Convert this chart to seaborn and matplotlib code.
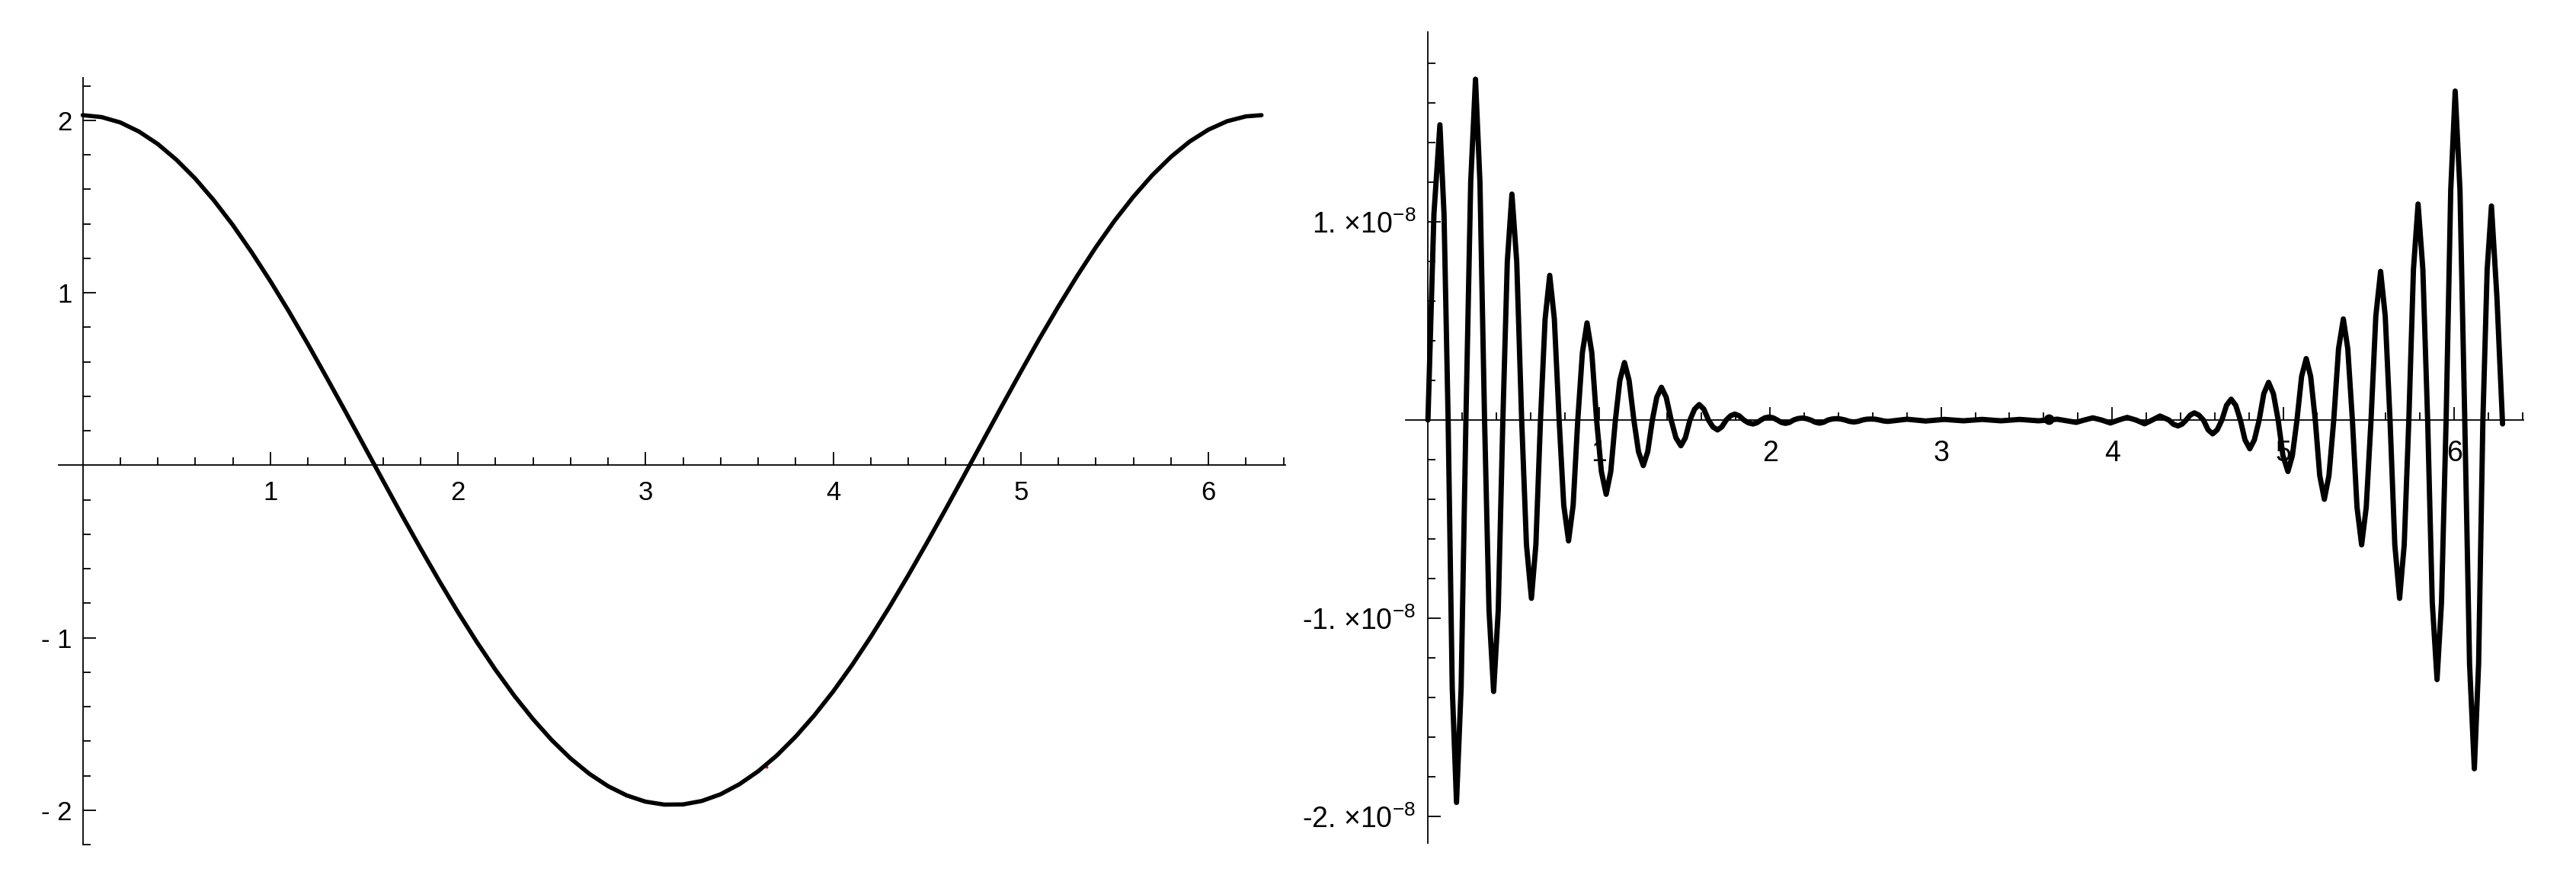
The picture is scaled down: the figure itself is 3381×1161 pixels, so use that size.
import matplotlib
matplotlib.use("Agg")
import numpy as np
import pandas as pd
import matplotlib.pyplot as plt
import seaborn as sns


# Left panel: the approximating curve
curve_x = [0.0, 0.1, 0.2, 0.3, 0.4, 0.5, 0.6, 0.7, 0.8, 0.9,
           1.0, 1.1, 1.2, 1.3, 1.4, 1.5, 1.6, 1.7, 1.8, 1.9,
           2.0, 2.1, 2.2, 2.3, 2.4, 2.5, 2.6, 2.7, 2.8, 2.9,
           3.0, 3.1, 3.2, 3.3, 3.4, 3.5, 3.6, 3.7, 3.8, 3.9,
           4.0, 4.1, 4.2, 4.3, 4.4, 4.5, 4.6, 4.7, 4.8, 4.9,
           5.0, 5.1, 5.2, 5.3, 5.4, 5.5, 5.6, 5.7, 5.8, 5.9,
           6.0, 6.1, 6.2, 6.283]
curve_y = [2.030, 2.019, 1.988, 1.935, 1.863, 1.771, 1.662, 1.535, 1.393, 1.236,
           1.068, 0.890, 0.703, 0.509, 0.312, 0.112, -0.088, -0.287, -0.481, -0.670,
           -0.852, -1.024, -1.186, -1.336, -1.472, -1.594, -1.700, -1.789, -1.861, -1.915,
           -1.951, -1.968, -1.967, -1.947, -1.908, -1.850, -1.775, -1.683, -1.574, -1.450,
           -1.312, -1.160, -0.996, -0.822, -0.639, -0.449, -0.254, -0.055, 0.145, 0.345,
           0.542, 0.735, 0.920, 1.097, 1.264, 1.418, 1.557, 1.681, 1.788, 1.877,
           1.946, 1.995, 2.023, 2.030]

# Right panel: error curve (units of 1e-8), one row per half wave:
# zero crossing, rising shoulder, extremum, falling shoulder
err_x = [0.000, 0.035, 0.070, 0.094,
         0.118, 0.142, 0.167, 0.194,
         0.222, 0.250, 0.278, 0.304,
         0.331, 0.357, 0.384, 0.411,
         0.438, 0.464, 0.491, 0.519,
         0.548, 0.576, 0.605, 0.631,
         0.658, 0.685, 0.712, 0.739,
         0.767, 0.794, 0.822, 0.849,
         0.876, 0.903, 0.930, 0.958,
         0.986, 1.014, 1.042, 1.069,
         1.096, 1.122, 1.149, 1.176,
         1.204, 1.231, 1.259, 1.285,
         1.312, 1.338, 1.365, 1.393,
         1.422, 1.450, 1.479, 1.505,
         1.532, 1.559, 1.586, 1.613,
         1.640, 1.666, 1.693, 1.718,
         1.744, 1.769, 1.794, 1.820,
         1.847, 1.873, 1.900, 1.923,
         1.947, 1.970, 1.994, 2.018,
         2.042, 2.066, 2.090, 2.114,
         2.138, 2.162, 2.187, 2.212,
         2.238, 2.264, 2.290, 2.314,
         2.339, 2.363, 2.388, 2.413,
         2.439, 2.464, 2.490, 2.515,
         2.540, 2.565, 2.590, 2.615,
         2.640, 2.665, 2.690,
         2.800, 2.910, 3.020, 3.130, 3.240, 3.350, 3.460, 3.570, 3.680,
         3.790, 3.838, 3.887, 3.938, 3.990, 4.039, 4.088, 4.139,
         4.190, 4.235, 4.280,
         4.332, 4.358, 4.385, 4.409,
         4.433, 4.457, 4.481, 4.507,
         4.534, 4.561, 4.588, 4.615,
         4.642, 4.669, 4.696, 4.723,
         4.750, 4.777, 4.805, 4.832,
         4.860, 4.887, 4.915, 4.943,
         4.971, 4.999, 5.028, 5.054,
         5.081, 5.108, 5.135, 5.161,
         5.188, 5.214, 5.241, 5.268,
         5.296, 5.324, 5.352, 5.378,
         5.405, 5.432, 5.459, 5.486,
         5.514, 5.542, 5.570, 5.597,
         5.625, 5.653, 5.681, 5.708,
         5.735, 5.762, 5.789, 5.817,
         5.845, 5.872, 5.900, 5.926,
         5.953, 5.980, 6.006, 6.034,
         6.062, 6.090, 6.118, 6.143,
         6.168, 6.193, 6.218, 6.250,
         6.283]
err_y = [0.00, 1.04, 1.49, 1.04,
         0.00, -1.35, -1.93, -1.35,
         0.00, 1.20, 1.72, 1.20,
         0.00, -0.96, -1.37, -0.96,
         0.00, 0.80, 1.14, 0.80,
         0.00, -0.63, -0.90, -0.63,
         0.00, 0.51, 0.73, 0.51,
         0.00, -0.43, -0.61, -0.43,
         0.00, 0.34, 0.49, 0.34,
         0.00, -0.26, -0.375, -0.26,
         0.00, 0.20, 0.29, 0.20,
         0.00, -0.16, -0.23, -0.16,
         0.00, 0.115, 0.165, 0.115,
         0.00, -0.09, -0.13, -0.09,
         0.00, 0.055, 0.078, 0.055,
         0.00, -0.035, -0.05, -0.035,
         0.00, 0.021, 0.03, 0.021,
         0.00, -0.014, -0.02, -0.014,
         0.00, 0.011, 0.015, 0.011,
         0.00, -0.012, -0.017, -0.012,
         0.00, 0.007, 0.010, 0.007,
         0.00, -0.011, -0.016, -0.011,
         0.00, 0.005, 0.007, 0.005,
         0.00, -0.007, -0.010, -0.007,
         0.00, 0.004, 0.005, 0.004,
         0.00, -0.005, -0.007,
         0.004, -0.005, 0.003, -0.004, 0.003, -0.004, 0.003, -0.004, 0.004,
         -0.012, 0.00, 0.011, 0.00, -0.015, 0.00, 0.013, 0.00,
         -0.019, 0.00, 0.020,
         0.00, -0.021, -0.030, -0.021,
         0.00, 0.025, 0.036, 0.025,
         0.00, -0.049, -0.070, -0.049,
         0.00, 0.074, 0.105, 0.074,
         0.00, -0.10, -0.145, -0.10,
         0.00, 0.133, 0.19, 0.133,
         0.00, -0.18, -0.26, -0.18,
         0.00, 0.22, 0.31, 0.22,
         0.00, -0.28, -0.40, -0.28,
         0.00, 0.36, 0.51, 0.36,
         0.00, -0.44, -0.63, -0.44,
         0.00, 0.525, 0.75, 0.525,
         0.00, -0.63, -0.90, -0.63,
         0.00, 0.76, 1.09, 0.76,
         0.00, -0.92, -1.31, -0.92,
         0.00, 1.16, 1.66, 1.16,
         0.00, -1.23, -1.76, -1.23,
         0.00, 0.76, 1.08, 0.62,
         -0.02]

# stray points visible in the picture
left_dot_x, left_dot_y = [3.643], [-1.75]
right_dot_x, right_dot_y = [3.63], [0.005]

left_xticks = [1, 2, 3, 4, 5, 6]
left_yticks = [-2, -1, 1, 2]
left_ylabels = ["- 2", "- 1", "1", "2"]
right_xticks = [1, 2, 3, 4, 5, 6]
right_yticks = [1e-8, -1e-8, -2e-8]
right_ylabels = ["1. \u00d710$^{-8}$", "-1. \u00d710$^{-8}$", "-2. \u00d710$^{-8}$"]

left_df = pd.DataFrame({"x": curve_x, "y": curve_y})
right_df = pd.DataFrame({"x": err_x, "y": np.array(err_y) * 1e-8})


sns.set_theme(style="white")
plt.rcParams["font.family"] = ["Liberation Sans", "DejaVu Sans"]
plt.rcParams["mathtext.fontset"] = "custom"
plt.rcParams["mathtext.rm"] = "Liberation Sans"
plt.rcParams["mathtext.it"] = "Liberation Sans:italic"
plt.rcParams["mathtext.bf"] = "Liberation Sans:bold"

W, H = 3381, 1161
fig = plt.figure(figsize=(W / 100, H / 100), dpi=100)
fig.patch.set_facecolor("white")
ax1 = fig.add_axes([77 / W, 1 - 1108 / H, 1610 / W, 1006 / H])
ax2 = fig.add_axes([1845 / W, 1 - 1106 / H, 1467 / W, 1064 / H])


def style_axes(ax, fs, xpad, ypad):
    for side in ["top", "right"]:
        ax.spines[side].set_visible(False)
    for side in ["left", "bottom"]:
        ax.spines[side].set_position(("data", 0))
        ax.spines[side].set_linewidth(1.3)
        ax.spines[side].set_color("black")
    ax.grid(False)
    ax.set_facecolor("none")
    ax.set_xlabel("")
    ax.set_ylabel("")
    ax.tick_params(which="both", direction="in", bottom=True, left=True,
                   color="black", width=1.3, labelcolor="black")
    ax.tick_params(which="major", length=12)
    ax.tick_params(which="minor", length=7)
    ax.tick_params(axis="x", which="major", pad=xpad, labelsize=fs)
    ax.tick_params(axis="y", which="major", pad=ypad, labelsize=fs)


# Left: curve
sns.lineplot(data=left_df, x="x", y="y", ax=ax1, color="black", linewidth=4.0,
             estimator=None, sort=False, zorder=3)
ax1.scatter(left_dot_x, left_dot_y, s=8, color="red", zorder=2.8, linewidths=0)
ax1.set_xlim(-0.128, 6.41)
ax1.set_ylim(-2.19, 2.247)
ax1.set_xticks(left_xticks, [str(t) for t in left_xticks])
ax1.set_yticks(left_yticks, left_ylabels)
minor_x = [v for v in np.round(np.arange(0.2, 6.41, 0.2), 2) if v % 1 != 0]
minor_y = [v for v in np.round(np.arange(-2.2, 2.21, 0.2), 2) if v % 1 != 0]
ax1.set_xticks(minor_x, minor=True)
ax1.set_yticks(minor_y, minor=True)
style_axes(ax1, 25, 14.4, 10)

# Right: error
sns.lineplot(data=right_df, x="x", y="y", ax=ax2, color="black", linewidth=5.0,
             estimator=None, sort=False, zorder=3)
ax2.scatter(right_dot_x, np.array(right_dot_y) * 1e-8, s=80, color="black", zorder=3.1)
ax2.set_xlim(-0.13, 6.405)
ax2.set_ylim(-2.135e-8, 1.958e-8)
ax2.set_xticks(right_xticks, [str(t) for t in right_xticks])
ax2.set_yticks(right_yticks, right_ylabels)
ax2.set_xticks(minor_x, minor=True)
minor_y2 = [v * 1e-8 for v in np.round(np.arange(-2.0, 1.81, 0.2), 2) if v % 1 != 0]
ax2.set_yticks(minor_y2, minor=True)
ax2.yaxis.get_offset_text().set_visible(False)
style_axes(ax2, 27, 18.7, 11.5)

fig.savefig("out.png", dpi=100, facecolor="white")
